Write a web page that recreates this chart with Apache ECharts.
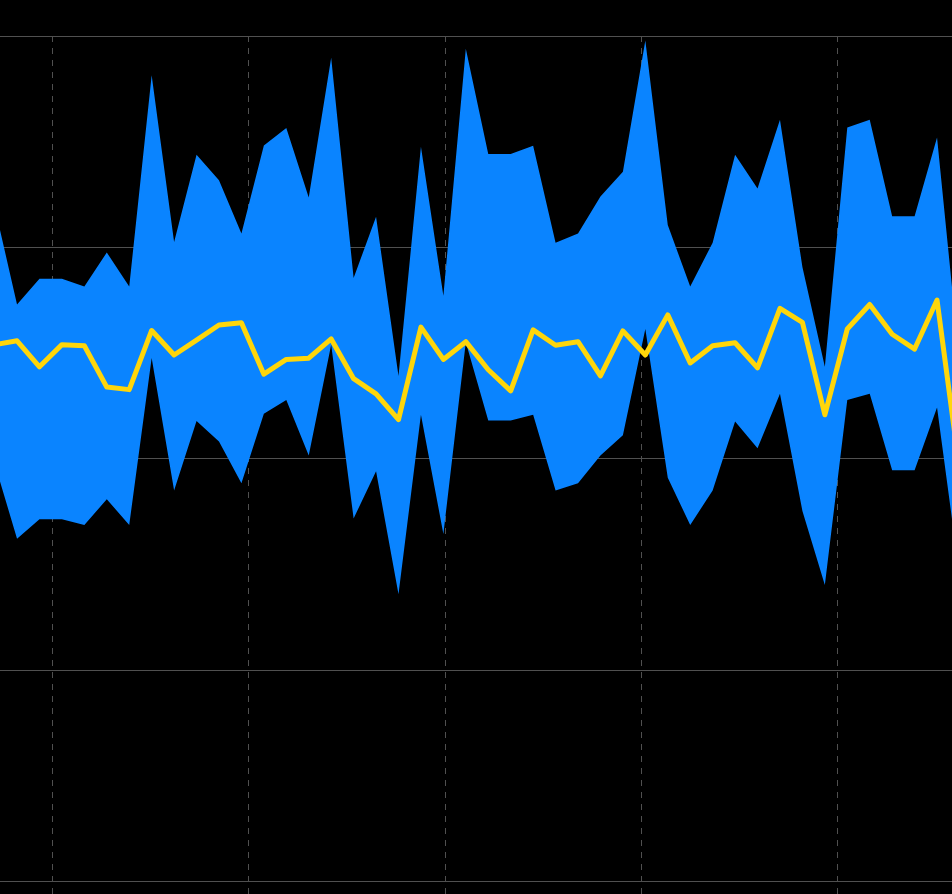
<!DOCTYPE html>
<html>
<head>
<meta charset="utf-8">
<style>
  html, body { margin: 0; padding: 0; background: #000; }
  #chart { width: 952px; height: 894px; }
</style>
<script src="https://cdn.jsdelivr.net/npm/echarts@6/dist/echarts.min.js"></script>
</head>
<body>
<div id="chart"></div>
<script>
// x positions (week index)
const weeks = [0,1,2,3,4,5,6,7,8,9,10,11,12,13,14,15,16,17,18,19,20,21,22,23,24,25,26,27,28,29,30,31,32,33,34,35,36,37,38,39,40,41,42,43];

const upper = [319.3,272.9,285.1,285.1,281.4,297.5,281.4,381.4,302.5,343.8,331.7,306.5,348.2,356.4,323.5,389.7,285.5,314.4,239.1,347.6,277.1,394.0,344.1,344.1,348.0,302.1,306.5,324.0,335.7,397.9,310.5,281.4,302.1,343.8,327.8,360.4,290.7,243.4,356.7,360.4,314.7,314.7,352.0,245.8];

const mean = [253.9,255.7,243.4,253.9,253.4,233.8,232.6,260.6,249.0,256.0,263.2,264.3,239.9,246.9,247.5,256.6,237.8,230.6,218.4,262.2,246.9,255.3,242.0,232.0,260.9,253.6,255.3,239.1,260.4,249.0,268.0,245.2,253.4,254.8,242.9,271.1,264.4,220.7,261.3,272.9,258.8,251.8,275.0,195.0];

const lower = [197.7,162.0,171.3,171.3,168.5,180.7,168.5,247.6,184.8,217.7,208.1,188.3,221.2,227.7,201.4,253.9,171.6,194.0,135.7,220.7,164.3,255.0,218.0,218.0,220.7,184.8,188.3,201.4,211.0,261.3,190.9,168.5,184.8,217.5,204.9,230.6,175.1,140.1,227.7,230.6,194.4,194.4,224.2,145.0];

const yTicks = [-100, 0, 100, 200, 300, 400];

const lowerData = weeks.map((w, i) => [w, lower[i]]);
const bandData = weeks.map((w, i) => [w, upper[i] - lower[i]]);
const meanData = weeks.map((w, i) => [w, mean[i]]);

const X_MIN = -6.179, X_MAX = 46.321;

const chart = echarts.init(document.getElementById('chart'), null, { renderer: 'canvas' });
chart.setOption({
  backgroundColor: '#000000',
  animation: false,
  grid: {
    left: -144.06,
    right: -82.0,
    top: 36,
    bottom: -198.25,
    containLabel: false,
    outerBoundsMode: 'none'
  },
  xAxis: [
    {
      type: 'time',
      min: X_MIN,
      max: X_MAX,
      show: false,
      splitLine: { show: false }
    },
    {
      type: 'value',
      min: X_MIN,
      max: X_MAX,
      interval: 8.75,
      axisLine: { show: false },
      axisTick: { show: false },
      axisLabel: { show: false },
      splitLine: {
        show: true,
        lineStyle: { color: '#505050', width: 1, type: [6, 6] }
      }
    }
  ],
  yAxis: {
    type: 'value',
    min: yTicks[0],
    max: yTicks[yTicks.length - 1],
    interval: 100,
    axisLine: { show: false },
    axisTick: { show: false },
    axisLabel: { show: false },
    splitLine: {
      show: true,
      lineStyle: { color: '#505050', width: 1, type: 'solid' }
    }
  },
  series: [
    {
      name: 'Lower',
      type: 'line',
      xAxisIndex: 0,
      data: lowerData,
      stack: 'band',
      symbol: 'none',
      lineStyle: { opacity: 0 },
      silent: true
    },
    {
      name: 'Band',
      type: 'line',
      xAxisIndex: 0,
      data: bandData,
      stack: 'band',
      symbol: 'none',
      lineStyle: { opacity: 0 },
      areaStyle: { color: '#0A84FF', opacity: 1 },
      silent: true
    },
    {
      name: 'Mean',
      type: 'line',
      xAxisIndex: 0,
      data: meanData,
      symbol: 'none',
      lineStyle: { color: '#FFD60A', width: 5, join: 'round' },
      silent: true
    }
  ]
});
</script>
</body>
</html>
